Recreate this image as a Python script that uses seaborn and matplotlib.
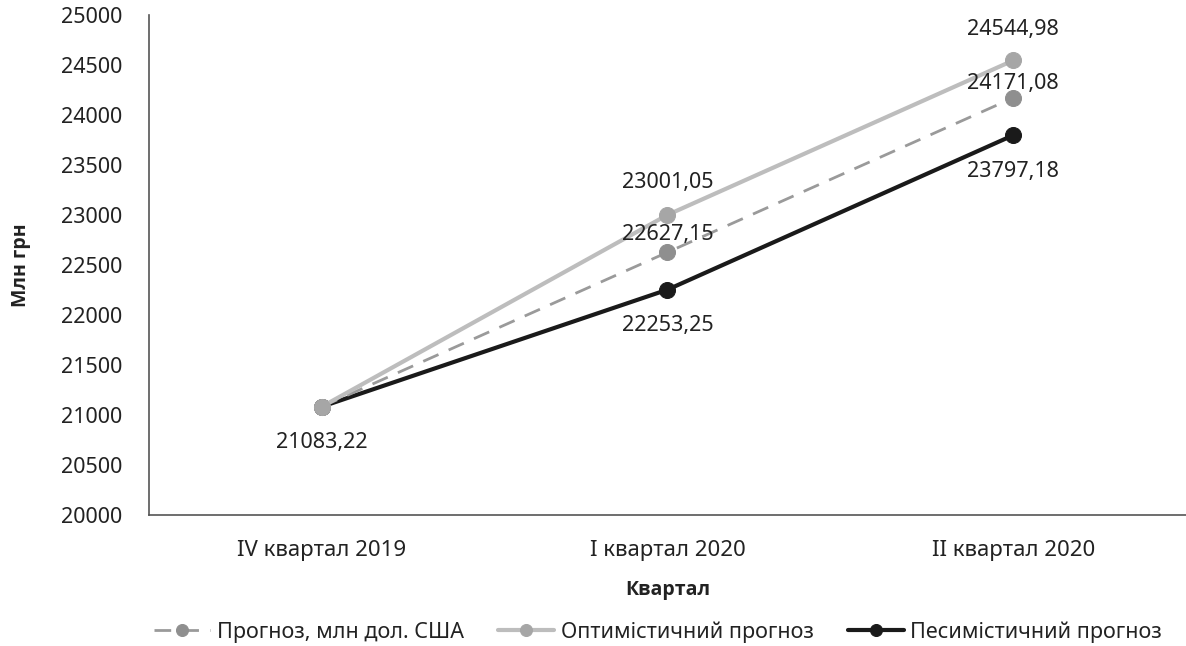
import matplotlib
matplotlib.use('Agg')
import matplotlib.pyplot as plt
import seaborn as sns
import pandas as pd

# Data
quarters = ['IV квартал 2019', 'I квартал 2020', 'II квартал 2020']
forecast = [21083.22, 22627.15, 24171.08]
optimistic = [21083.22, 23001.05, 24544.98]
pessimistic = [21083.22, 22253.25, 23797.18]

names = ['Прогноз, млн дол. США', 'Оптимістичний прогноз', 'Песимістичний прогноз']

sns.set_theme(style='white')
plt.rcParams['font.family'] = ['Noto Sans', 'DejaVu Sans']

fig = plt.figure(figsize=(11.86, 6.46), dpi=100)
ax = fig.add_axes([0.1256, 0.2028, 0.8744, 0.774])

df = pd.DataFrame({'quarter': quarters * 3,
                   'value': forecast + optimistic + pessimistic,
                   'series': [names[0]] * 3 + [names[1]] * 3 + [names[2]] * 3})

styles = {
    names[0]: dict(color='#9a9a9a', lw=2.0, ls=(0, (6, 4)), mfc='#8f8f8f', z=3),
    names[1]: dict(color='#bdbdbd', lw=3.0, ls='-', mfc='#a6a6a6', z=4),
    names[2]: dict(color='#1a1a1a', lw=3.0, ls='-', mfc='#1a1a1a', z=2),
}

for name in names:
    st = styles[name]
    sub = df[df['series'] == name]
    sns.lineplot(data=sub, x='quarter', y='value', ax=ax, color=st['color'],
                 linewidth=st['lw'], linestyle=st['ls'], marker='o', markersize=11.5,
                 markerfacecolor=st['mfc'], markeredgecolor=st['mfc'], zorder=st['z'],
                 label=name, sort=False)

# value labels (offsets in points, None = no label)
label_offsets = {
    names[0]: [None, 13, 10],
    names[1]: [None, 23, 22],
    names[2]: [-26, -26, -26],
}
for name in names:
    vals = df[df['series'] == name]['value'].tolist()
    for i, v in enumerate(vals):
        off = label_offsets[name][i]
        if off is None:
            continue
        ax.annotate(f'{v:.2f}'.replace('.', ','), (i, v), xytext=(0, off),
                    textcoords='offset points', ha='center', va='center',
                    fontsize=15.5, color='#222222', zorder=6)

ax.set_xlim(-0.5, 2.5)
ax.set_ylim(20000, 25000)
ax.set_yticks(range(20000, 25001, 500))
ax.tick_params(axis='both', length=0, colors='#222222')
ax.tick_params(axis='y', pad=19, labelsize=15.5)
ax.tick_params(axis='x', pad=18, labelsize=16)

for side in ['top', 'right']:
    ax.spines[side].set_visible(False)
for side in ['left', 'bottom']:
    ax.spines[side].set_color('#555555')
    ax.spines[side].set_linewidth(1.2)

ax.set_xlabel('Квартал', fontsize=14, fontweight='bold', family='Open Sans',
              color='#222222', labelpad=14)
ax.set_ylabel('Млн грн', fontsize=14, fontweight='bold', family='Open Sans',
              color='#222222', labelpad=22)

leg = ax.legend(loc='center', ncol=3, frameon=False, fontsize=15.5,
                handlelength=2.6, columnspacing=1.6, handletextpad=0.3,
                markerscale=0.75, labelcolor='#222222',
                bbox_to_anchor=(0.555, 0.0217), bbox_transform=fig.transFigure)

fig.savefig('out.png', dpi=100)
